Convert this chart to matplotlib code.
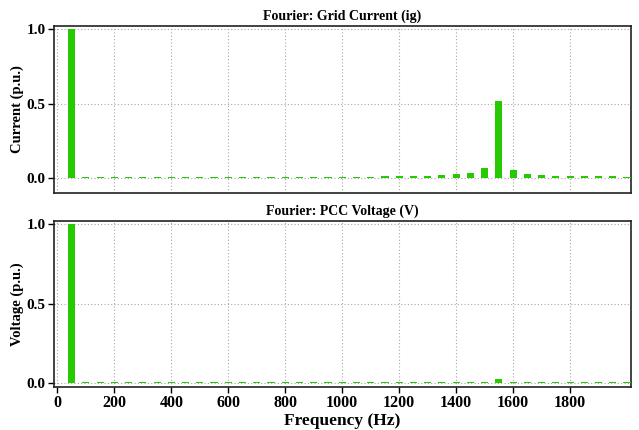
import matplotlib

matplotlib.use("Agg")
import matplotlib.pyplot as plt

freqs = list(range(50, 2001, 50))
current_pu = (
    [1.0]
    + [0.007] * 16
    + [0.007, 0.007, 0.007, 0.008, 0.009, 0.011, 0.013, 0.013, 0.016, 0.018,
       0.025, 0.034, 0.067, 0.518, 0.054, 0.029, 0.022, 0.016, 0.016, 0.013,
       0.013, 0.011, 0.009]
)
voltage_pu = [1.0] + [0.006] * 29 + [0.025] + [0.006] * 9

titles = ["Fourier: Grid Current (ig)", "Fourier: PCC Voltage (V)"]
ylabels = ["Current (p.u.)", "Voltage (p.u.)"]
yticks = [0.0, 0.5, 1.0]
xticks = list(range(0, 1801, 200))

GREEN = "#27c900"
plt.rcParams["font.family"] = ["Liberation Serif", "DejaVu Serif"]
plt.rcParams["font.weight"] = "bold"

fig = plt.figure(figsize=(6.39, 4.30), dpi=100)
ax_top = fig.add_axes([0.0845, 0.552, 0.903, 0.388])
ax_bot = fig.add_axes([0.0845, 0.100, 0.903, 0.387])

for ax, vals, title, ylabel, ylim in [
    (ax_top, current_pu, titles[0], ylabels[0], (-0.099, 1.024)),
    (ax_bot, voltage_pu, titles[1], ylabels[1], (-0.023, 1.023)),
]:
    ax.bar(freqs, vals, width=25, color=GREEN, linewidth=0, zorder=3)
    ax.set_xlim(-12, 2014)
    ax.set_ylim(*ylim)
    ax.set_yticks(yticks)
    ax.set_yticklabels([f"{v:.1f}" for v in yticks], fontsize=11, fontweight="bold")
    ax.set_xticks(xticks)
    ax.grid(True, linestyle=(0, (1, 2)), color="#a8a8a8", linewidth=0.8, zorder=0)
    ax.set_title(title, fontsize=10, fontweight="bold", pad=4)
    ax.set_ylabel(ylabel, fontsize=10.5, fontweight="bold", labelpad=2)
    for spine in ax.spines.values():
        spine.set_color("#222222")
        spine.set_linewidth(1.2)
    ax.tick_params(axis="y", direction="out", length=4, width=1, pad=2)

ax_top.tick_params(axis="x", length=0, labelbottom=False)
ax_bot.tick_params(axis="x", direction="out", length=4, width=1, pad=2, labelsize=11.5)
for lbl in ax_bot.get_xticklabels():
    lbl.set_fontweight("bold")
ax_bot.set_xlabel("Frequency (Hz)", fontsize=12.5, fontweight="bold", labelpad=1)

fig.savefig("out.png", dpi=100)
